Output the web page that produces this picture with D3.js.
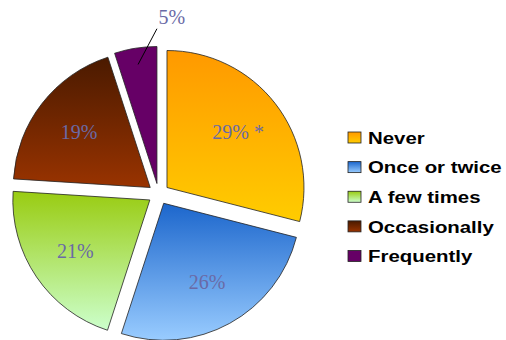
<!DOCTYPE html>
<html>
<head>
<meta charset="utf-8">
<script src="https://cdn.jsdelivr.net/npm/d3@7"></script>
<style>
  body { margin: 0; background: #fff; }
  svg { display: block; }
  .pie__label { font-family: "Liberation Serif", "Times New Roman", serif; font-size: 20px; fill: #6a6aa6; }
  .legend__text { font-family: "Liberation Sans", Arial, sans-serif; font-size: 17px; font-weight: bold; fill: #000; }
</style>
</head>
<body>
<svg id="chart" width="506" height="340"></svg>
<script>
const categories = ['Never', 'Once or twice', 'A few times', 'Occasionally', 'Frequently']
const values = [29, 26, 21, 19, 5]
const labels = ['29% *', '26%', '21%', '19%', '5%']
// top / bottom stop of each slice's fill
const gradTop = ['#ff9900', '#1c66cc', '#99cc11', '#4a1a00', '#660066']
const gradBottom = ['#ffcc00', '#99ccff', '#ccffcc', '#993300', '#660066']

const W = 506
const H = 340
const cx = 158.6
const cy = 194
const radius = 137
const explode = 10.6

const svg = d3.select('#chart')
const defs = svg.append('defs')

categories.forEach((c, i) => {
    const g = defs.append('linearGradient')
        .attr('id', `grad-${i}`)
        .attr('x1', 0).attr('y1', 0).attr('x2', 0).attr('y2', 1)
    g.append('stop').attr('offset', '0%').attr('stop-color', gradTop[i])
    g.append('stop').attr('offset', '100%').attr('stop-color', gradBottom[i])
})

const rows = categories.map((name, i) => ({name, value: values[i], label: labels[i], i}))

const pie = d3.pie().sort(null).value((d) => d.value)
const arc = d3.arc().innerRadius(0).outerRadius(radius)
const shift = d3.arc().innerRadius(explode).outerRadius(explode)
const labelArc = d3.arc().innerRadius(90).outerRadius(90)

const arcs = pie(rows)

const slices = svg.append('g')
    .attr('transform', `translate(${cx},${cy})`)
    .selectAll('.pie__slice')
    .data(arcs).enter()
    .append('g')
        .attr('class', 'pie__slice')
        .attr('transform', (d) => `translate(${shift.centroid(d)})`)

slices.append('path')
    .attr('d', arc)
    .attr('fill', (d) => `url(#grad-${d.data.i})`)
    .attr('stroke', '#222')
    .attr('stroke-width', 0.8)

// big slices get the label inside
slices.filter((d) => d.data.value >= 10)
    .append('text')
    .attr('class', 'pie__label')
    .attr('transform', (d) => `translate(${labelArc.centroid(d)})`)
    .attr('text-anchor', 'middle')
    .attr('dy', '0.35em')
    .text((d) => d.data.label)

// small slice: label outside with a leader line
const small = slices.filter((d) => d.data.value < 10)
const mid = (d) => (d.startAngle + d.endAngle) / 2
small.append('line')
    .attr('x1', (d) => Math.sin(mid(d)) * radius * 0.88)
    .attr('y1', (d) => -Math.cos(mid(d)) * radius * 0.88)
    .attr('x2', (d) => Math.sin(d.endAngle) * radius * 1.13)
    .attr('y2', (d) => -Math.cos(d.endAngle) * radius * 1.13)
    .attr('stroke', '#000')
    .attr('stroke-width', 1)
small.append('text')
    .attr('class', 'pie__label')
    .attr('x', (d) => Math.sin(d.endAngle) * radius * 1.13 + 15)
    .attr('y', (d) => -Math.cos(d.endAngle) * radius * 1.13 - 12)
    .attr('text-anchor', 'middle')
    .attr('dy', '0.35em')
    .text((d) => d.data.label)

// legend
const legendY = d3.scalePoint().domain(categories).range([137.5, 256])
const legend = svg.append('g').attr('class', 'legend')
const items = legend.selectAll('.legend__item')
    .data(rows).enter()
    .append('g')
        .attr('class', 'legend__item')
        .attr('transform', (d) => `translate(348,${legendY(d.name)})`)

items.append('rect')
    .attr('x', 0).attr('y', -5.5)
    .attr('width', 13).attr('height', 11)
    .attr('fill', (d) => `url(#grad-${d.i})`)
    .attr('stroke', '#222')
    .attr('stroke-width', 0.8)

items.append('text')
    .attr('class', 'legend__text')
    .attr('transform', 'translate(20,6.2) scale(1.2,1)')
    .text((d) => d.name)
</script>
</body>
</html>
